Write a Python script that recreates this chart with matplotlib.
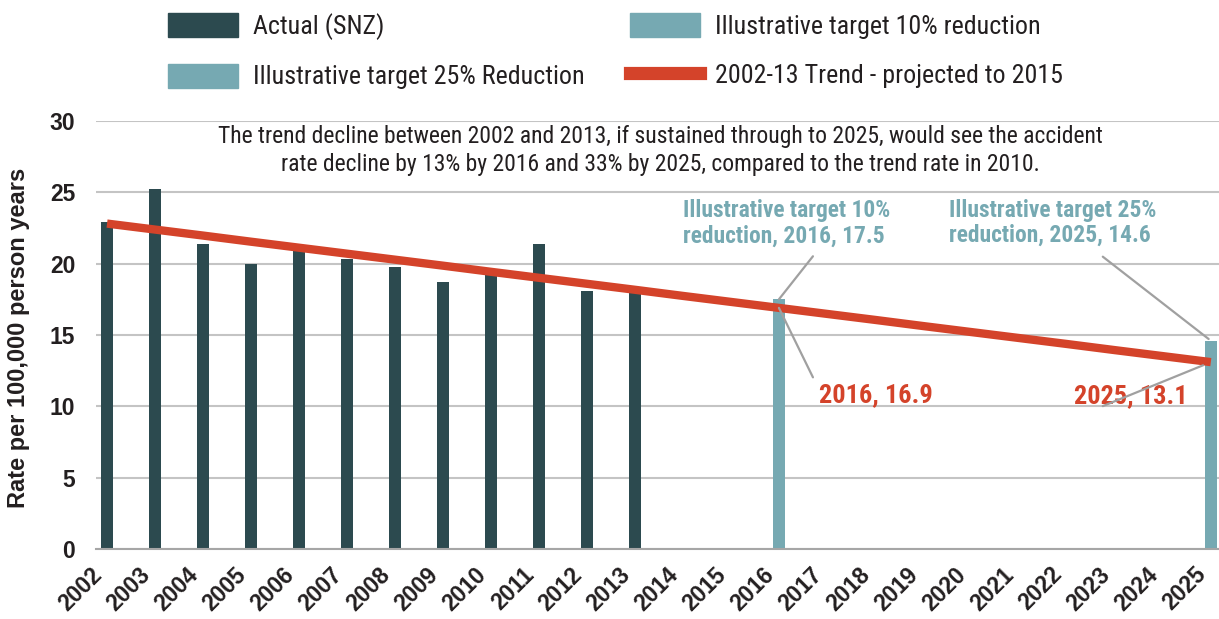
import matplotlib
matplotlib.use("Agg")
import matplotlib.pyplot as plt
import matplotlib.transforms as mtransforms
from matplotlib.lines import Line2D
from matplotlib.patches import Patch

# ---- data ----
years = [str(y) for y in range(2002, 2026)]
actual = [22.9, 25.2, 21.4, 20.0, 20.9, 20.3, 19.8, 18.7, 19.5, 21.4, 18.1, 18.2]
target10_year = "2016"
target10_value = 17.5
target25_year = "2025"
target25_value = 14.6
trend = [22.81, 22.39, 21.97, 21.54, 21.12, 20.70, 20.28, 19.86, 19.43, 19.01, 18.59, 18.17,
         17.74, 17.32, 16.90, 16.48, 16.06, 15.63, 15.21, 14.79, 14.37, 13.94, 13.52, 13.10]
yticks = [0, 5, 10, 15, 20, 25, 30]
legend_labels = ["Actual (SNZ)", "Illustrative target 25% Reduction",
                 "Illustrative target 10% reduction", "2002-13 Trend - projected to 2015"]
subtitle = ("The trend decline between 2002 and 2013, if sustained through to 2025, would see the accident\n"
            "rate decline by 13% by 2016 and 33% by 2025, compared to the trend rate in 2010.")

DARK = "#2C4A4F"
TEAL = "#76A9B2"
RED = "#D4432A"
TXT = "#231F20"
GRID = "#C4C4C4"
LEAD = "#A0A0A0"

COND = ["Roboto Condensed", "DejaVu Sans"]
BOLD = ["Liberation Sans", "DejaVu Sans"]

fig = plt.figure(figsize=(12.19, 6.19), dpi=100)
ax = fig.add_axes([96 / 1219, 1 - 549 / 619, (1219 - 96) / 1219, 428 / 619])

x = list(range(len(years)))
w = 0.25
ax.bar(x[:len(actual)], actual, width=w, color=DARK, zorder=2)
i10 = years.index(target10_year)
i25 = years.index(target25_year)
ax.bar([i10], [target10_value], width=w, color=TEAL, zorder=2)
ax.bar([i25], [target25_value], width=w, color=TEAL, zorder=2)
ax.plot(x, trend, color=RED, lw=6, solid_capstyle="butt", zorder=3)

ax.set_xlim(-0.23, 23.17)
ax.set_ylim(0, 30)
ax.set_yticks(yticks)
ax.set_yticklabels([str(t) for t in yticks], fontsize=16.5, fontweight="bold", family=BOLD, color=TXT)
ax.set_xticks(x)
ax.set_xticklabels(years, rotation=45, ha="right", rotation_mode="default",
                   fontsize=16.5, fontweight="bold", family=BOLD, color=TXT)
shift = mtransforms.ScaledTranslation(7 / 100, 0, fig.dpi_scale_trans)
for lab in ax.get_xticklabels():
    lab.set_transform(lab.get_transform() + shift)
ax.tick_params(axis="both", length=0)
ax.tick_params(axis="y", pad=15)
ax.tick_params(axis="x", pad=10)
for s in ["top", "right", "left"]:
    ax.spines[s].set_visible(False)
ax.spines["bottom"].set_color("#A6A6A6")
ax.spines["bottom"].set_linewidth(1.5)
ax.yaxis.grid(True, color=GRID, lw=1.5, zorder=0)
ax.set_axisbelow(True)
ax.set_ylabel("Rate per 100,000 person years", fontsize=17, fontweight="bold",
              family=BOLD, color=TXT)
ax.yaxis.set_label_coords(-0.0588, 0.493)

# subtitle
ax.text(0.503, 0.931, subtitle, transform=ax.transAxes, ha="center", va="center",
        fontsize=17.0, fontweight=400, family=COND, color=TXT, linespacing=1.3)

# leader lines
lp = dict(arrowstyle="-", color=LEAD, lw=1.6, shrinkA=0, shrinkB=0)
ax.annotate("", xy=(i10, target10_value), xytext=(24.5, 31), textcoords="offset points", arrowprops=lp, zorder=4)
ax.annotate("", xy=(i10, trend[i10]), xytext=(24.5, -50), textcoords="offset points", arrowprops=lp, zorder=4)
ax.annotate("", xy=(i25, target25_value), xytext=(-77.8, 60.5), textcoords="offset points",
            arrowprops=dict(lp, shrinkB=2), zorder=4)
ax.annotate("", xy=(i25, trend[i25]), xytext=(-77.8, -31.7), textcoords="offset points",
            arrowprops=dict(lp, shrinkB=6), zorder=4)

# data labels
ax.annotate(f"Illustrative target 10%\nreduction, {target10_year}, {target10_value}",
            xy=(i10, target10_value), xytext=(-69, 72), textcoords="offset points",
            ha="left", va="top", fontsize=16.9, fontweight="bold", family=COND, color=TEAL,
            linespacing=1.12)
ax.annotate(f"Illustrative target 25%\nreduction, {target25_year}, {target25_value}",
            xy=(i25, target25_value), xytext=(-188.6, 102), textcoords="offset points",
            ha="left", va="top", fontsize=16.9, fontweight="bold", family=COND, color=TEAL,
            linespacing=1.12)
ax.annotate(f"{target10_year}, {trend[i10]:.1f}", xy=(i10, trend[i10]), xytext=(29, -62.6),
            textcoords="offset points", ha="left", va="center", fontsize=19, fontweight="bold",
            family=COND, color=RED)
ax.annotate(f"{target25_year}, {trend[i25]:.1f}", xy=(i25, trend[i25]), xytext=(-17, -24.5),
            textcoords="offset points", ha="right", va="center", fontsize=19, fontweight="bold",
            family=COND, color=RED)

# legend
handles = [Patch(color=DARK), Patch(color=TEAL), Patch(color=TEAL), Line2D([], [], color=RED, lw=9.5)]
leg = fig.legend(handles, legend_labels, ncol=2, loc="upper left",
                 bbox_to_anchor=(144.5 / 1219, 1 + 10 / 619),
                 frameon=False, prop={"family": COND, "size": 18.7, "weight": 400},
                 handlelength=2.69, handleheight=1.04, handletextpad=0.58, columnspacing=1.77,
                 labelspacing=0.9, labelcolor=TXT)

fig.savefig("out.png", dpi=100)
